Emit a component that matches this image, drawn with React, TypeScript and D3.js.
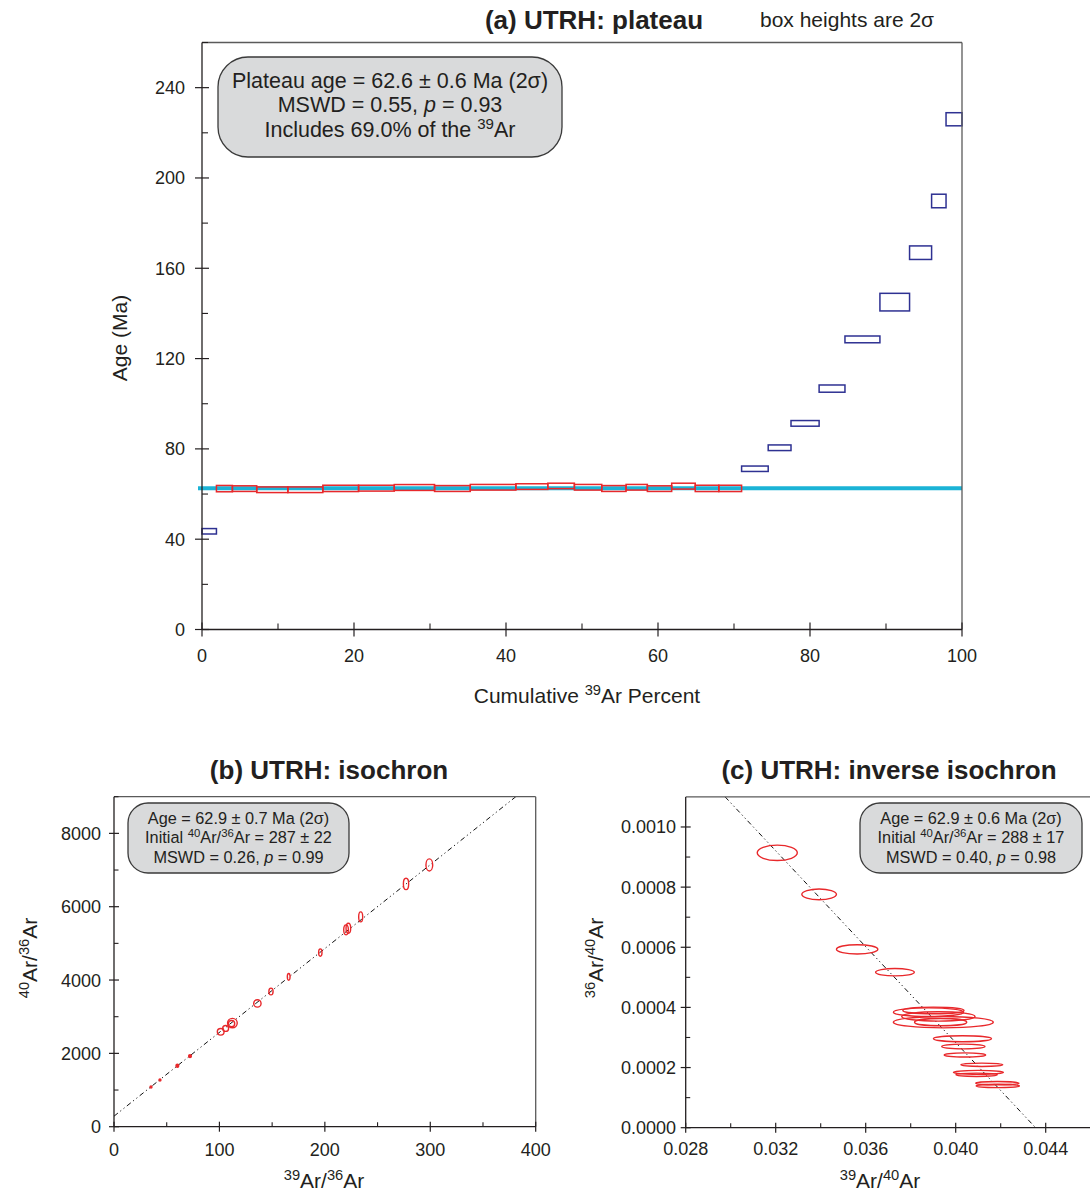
import React from "react";
import * as d3 from "d3";

// ---------- (a) plateau data ----------
const stepBounds = [0, 1.9, 4.0, 7.2, 11.3, 15.9, 20.6, 25.3, 30.6, 35.3, 41.3, 45.5, 49.0, 52.6, 55.8, 58.6, 61.8, 64.9, 68.0, 71.0, 74.5, 77.5, 81.2, 84.6, 89.2, 93.1, 96.0, 97.9, 100];
const stepAges = [43.5, 62.4, 62.4, 61.9, 61.9, 62.5, 62.6, 62.9, 62.45, 63.0, 63.3, 63.6, 63.0, 62.45, 63.0, 62.4, 63.5, 62.5, 62.5, 71.2, 80.5, 91.3, 106.7, 128.5, 145.0, 166.9, 189.8, 226.0];
const stepErr2s = [1.2, 1.4, 1.25, 1.25, 1.25, 1.4, 1.3, 1.3, 1.3, 1.25, 1.25, 1.2, 1.25, 1.3, 1.25, 1.25, 1.3, 1.4, 1.4, 1.2, 1.25, 1.25, 1.6, 1.5, 3.9, 3.0, 3.0, 2.9];
const plateauFirst = 1;
const plateauLast = 18;
const plateauAge = 62.6;
const ageTicks = [0, 40, 80, 120, 160, 200, 240];
const ageMinor = [20, 60, 100, 140, 180, 220, 260];
const pctTicks = [0, 20, 40, 60, 80, 100];
const pctMinor = [10, 30, 50, 70, 90];

// ---------- (b) isochron data ----------
const iso39_36 = [35.1, 43.6, 60.1, 72.1, 101.2, 105.9, 112.3, 111.5, 136.0, 148.9, 165.7, 195.7, 220.1, 222.3, 234.0, 277.0, 299.1];
const iso40_36 = [1081, 1272, 1662, 1925, 2588, 2679, 2825, 2810, 3361, 3688, 4087, 4750, 5368, 5413, 5722, 6621, 7139];
const isoErrX = [0.9, 0.9, 1.3, 1.3, 3.2, 2.8, 4.6, 3.0, 3.5, 2.0, 1.3, 1.6, 2.2, 2.2, 1.9, 2.5, 3.2];
const isoErrY = [28, 28, 40, 40, 90, 80, 128, 85, 100, 92, 92, 100, 136, 136, 136, 155, 165];
const isoInit = 287;
const isoSlope = 22.86;
const isoXTicks = [0, 100, 200, 300, 400];
const isoXMinor = [50, 150, 250, 350];
const isoYTicks = [0, 2000, 4000, 6000, 8000];
const isoYMinor = [1000, 3000, 5000, 7000, 9000];

// ---------- (c) inverse isochron data ----------
const inv39_40 = [0.03207, 0.03393, 0.03562, 0.03730, 0.03879, 0.03901, 0.03923, 0.03945, 0.03933, 0.04030, 0.04034, 0.04041, 0.04116, 0.04101, 0.04093, 0.04185, 0.04187];
const inv36_40 = [0.000914, 0.000776, 0.000593, 0.000517, 0.000384, 0.000390, 0.000370, 0.000351, 0.000351, 0.000296, 0.000270, 0.000242, 0.000209, 0.000184, 0.000176, 0.000148, 0.000139];
const invErrX = [0.00089, 0.00077, 0.00092, 0.00086, 0.00156, 0.00136, 0.00163, 0.00222, 0.00116, 0.00129, 0.00096, 0.00092, 0.00093, 0.00111, 0.00092, 0.00096, 0.00096];
const invErrY = [0.0000256, 0.0000178, 0.0000156, 0.0000122, 0.0000144, 0.0000111, 0.0000156, 0.0000189, 0.0000122, 0.0000100, 0.0000078, 0.0000067, 0.0000056, 0.0000067, 0.0000056, 0.0000056, 0.0000056];
const invYIntercept = 0.003472;
const invXIntercept = 0.04355;
const invXTicks = [0.028, 0.032, 0.036, 0.040, 0.044];
const invXMinor = [0.030, 0.034, 0.038, 0.042];
const invYTicks = [0, 0.0002, 0.0004, 0.0006, 0.0008, 0.0010];
const invYMinor = [0.0001, 0.0003, 0.0005, 0.0007, 0.0009];

const FONT = "'Liberation Sans', Arial, Helvetica, sans-serif";
const INK = "#231f20";
const FRAME = "#5a5a5a";
const RED = "#e8282b";
const BLUE = "#2e3192";
const CYAN = "#1bb3d6";
const BOXFILL = "#d9dadb";

type Part = { t: string; sup?: boolean; it?: boolean };

function Rich({ parts, x, y, size, anchor = "middle", weight = "normal", rotate = false }: any) {
  const out: any[] = [];
  let shifted = false;
  const shift = 0.36 * size;
  parts.forEach((p: Part, i: number) => {
    let dy = 0;
    if (p.sup && !shifted) { dy = -shift; shifted = true; }
    else if (!p.sup && shifted) { dy = shift; shifted = false; }
    out.push(
      <tspan key={i} dy={dy || undefined} fontSize={p.sup ? size * 0.7 : size} fontStyle={p.it ? "italic" : undefined}>
        {p.t}
      </tspan>
    );
  });
  return (
    <text
      x={rotate ? 0 : x}
      y={rotate ? 0 : y}
      transform={rotate ? `translate(${x},${y}) rotate(-90)` : undefined}
      textAnchor={anchor}
      fontFamily={FONT}
      fontSize={size}
      fontWeight={weight}
      fill={INK}
    >
      {out}
    </text>
  );
}

function Axes({ xs, ys, xTicks, xMinor, yTicks, yMinor, xFmt, yFmt, major, minor, tickSize, xLabY, yLabX }: any) {
  const [x0, x1] = xs.range();
  const [y0, y1] = ys.range();
  return (
    <g>
      <line x1={x0} x2={x1} y1={y1} y2={y1} stroke={FRAME} strokeWidth={1.3} />
      <line x1={x1} x2={x1} y1={y1} y2={y0} stroke={FRAME} strokeWidth={1.3} />
      <line x1={x0} x2={x1} y1={y0} y2={y0} stroke={INK} strokeWidth={1.3} />
      <line x1={x0} x2={x0} y1={y0} y2={y1} stroke={INK} strokeWidth={1.3} />
      {xTicks.map((t: number) => (
        <g key={"xt" + t}>
          <line x1={xs(t)} x2={xs(t)} y1={y0 - major} y2={y0 + major} stroke={INK} strokeWidth={1.2} />
          <text x={xs(t)} y={xLabY} textAnchor="middle" fontFamily={FONT} fontSize={tickSize} fill={INK}>{xFmt(t)}</text>
        </g>
      ))}
      {xMinor.map((t: number) => (
        <line key={"xm" + t} x1={xs(t)} x2={xs(t)} y1={y0 - minor} y2={y0} stroke={INK} strokeWidth={1.1} />
      ))}
      {yTicks.map((t: number) => (
        <g key={"yt" + t}>
          <line x1={x0 - major} x2={x0 + major} y1={ys(t)} y2={ys(t)} stroke={INK} strokeWidth={1.2} />
          <text x={yLabX} y={ys(t) + tickSize * 0.36} textAnchor="end" fontFamily={FONT} fontSize={tickSize} fill={INK}>{yFmt(t)}</text>
        </g>
      ))}
      {yMinor.filter((t: number) => ys(t) >= y1 - 0.5).map((t: number) => (
        <line key={"ym" + t} x1={x0} x2={x0 + minor} y1={ys(t)} y2={ys(t)} stroke={INK} strokeWidth={1.1} />
      ))}
    </g>
  );
}

function InfoBox({ x, y, w, h, r, size, lines, baselines }: any) {
  return (
    <g>
      <rect x={x} y={y} width={w} height={h} rx={r} ry={r} fill={BOXFILL} stroke="#3a3a3a" strokeWidth={1.3} />
      {lines.map((parts: Part[], i: number) => (
        <Rich key={i} parts={parts} x={x + w / 2} y={baselines[i]} size={size} />
      ))}
    </g>
  );
}

export default function App() {
  // (a)
  const xa = d3.scaleLinear().domain([0, 100]).range([202, 962]);
  const ya = d3.scaleLinear().domain([0, 260]).range([629.5, 42.5]);
  // (b)
  const xb = d3.scaleLinear().domain([0, 400]).range([114, 535.7]);
  const yb = d3.scaleLinear().domain([0, 9000]).range([1126.7, 796.7]);
  // (c)
  const xc = d3.scaleLinear().domain([0.028, 0.046]).range([685.7, 1090.7]);
  const yc = d3.scaleLinear().domain([0, 0.0011]).range([1127.7, 796.9]);

  const steps = stepAges.map((a, i) => ({
    x0: stepBounds[i], x1: stepBounds[i + 1], age: a, err: stepErr2s[i],
    inPlateau: i >= plateauFirst && i <= plateauLast,
  }));

  const isoXEnd = (9000 - isoInit) / isoSlope;
  const isoLine = d3.line<[number, number]>().x(d => xb(d[0])).y(d => yb(d[1]));
  const invXStart = (invYIntercept - 0.0011) / (invYIntercept / invXIntercept);
  const invLine = d3.line<[number, number]>().x(d => xc(d[0])).y(d => yc(d[1]));

  const dash = "5 3 1.2 3 1.2 3";

  return (
    <svg width={1090} height={1192} style={{ position: "absolute", left: 0, top: 0, background: "#fff" }}>
      <rect x={0} y={0} width={1090} height={1192} fill="#fff" />
      {/* ================= (a) ================= */}
      <Rich parts={[{ t: "(a) UTRH: plateau" }]} x={594} y={29} size={26} weight="bold" />
      <Rich parts={[{ t: "box heights are 2σ" }]} x={760} y={27} size={21} anchor="start" />
      <line x1={xa(0) - 4} x2={xa(100)} y1={ya(plateauAge)} y2={ya(plateauAge)} stroke={CYAN} strokeWidth={4} />
      {steps.map((s, i) => (
        <rect key={i} x={xa(s.x0)} y={ya(s.age + s.err)} width={xa(s.x1) - xa(s.x0)} height={ya(s.age - s.err) - ya(s.age + s.err)}
          fill="none" stroke={s.inPlateau ? RED : BLUE} strokeWidth={1.5} />
      ))}
      <Axes xs={xa} ys={ya} xTicks={pctTicks} xMinor={pctMinor} yTicks={ageTicks} yMinor={ageMinor}
        xFmt={(t: number) => String(t)} yFmt={(t: number) => String(t)} major={7} minor={6} tickSize={18}
        xLabY={662} yLabX={185} />
      <Rich parts={[{ t: "Age (Ma)" }]} x={127} y={338} size={21} rotate />
      <Rich parts={[{ t: "Cumulative " }, { t: "39", sup: true }, { t: "Ar Percent" }]} x={587} y={703} size={21} />
      <InfoBox x={218} y={57} w={344} h={100} r={30} size={21.5}
        baselines={[88, 112, 137]}
        lines={[
          [{ t: "Plateau age = 62.6 ± 0.6 Ma (2σ)" }],
          [{ t: "MSWD = 0.55, " }, { t: "p", it: true }, { t: " = 0.93" }],
          [{ t: "Includes 69.0% of the " }, { t: "39", sup: true }, { t: "Ar" }],
        ]} />

      {/* ================= (b) ================= */}
      <Rich parts={[{ t: "(b) UTRH: isochron" }]} x={329} y={779} size={26} weight="bold" />
      <path d={isoLine([[0, isoInit], [isoXEnd, isoInit + isoSlope * isoXEnd]]) || ""} fill="none" stroke="#111" strokeWidth={1} strokeDasharray={dash} />
      {iso39_36.map((xv, i) => {
        const rx = Math.max(1, xb(isoErrX[i]) - xb(0));
        const ry = Math.max(1, yb(0) - yb(isoErrY[i]));
        const tiny = rx < 1.6 && ry < 1.6;
        return (
          <ellipse key={i} cx={xb(xv)} cy={yb(iso40_36[i])} rx={rx} ry={ry}
            fill={tiny ? RED : "none"} stroke={RED} strokeWidth={1.4} />
        );
      })}
      <Axes xs={xb} ys={yb} xTicks={isoXTicks} xMinor={isoXMinor} yTicks={isoYTicks} yMinor={isoYMinor}
        xFmt={(t: number) => String(t)} yFmt={(t: number) => String(t)} major={5} minor={4.5} tickSize={18}
        xLabY={1156} yLabX={101} />
      <Rich parts={[{ t: "40", sup: true }, { t: "Ar/" }, { t: "36", sup: true }, { t: "Ar" }]} x={37} y={958} size={21} rotate />
      <Rich parts={[{ t: "39", sup: true }, { t: "Ar/" }, { t: "36", sup: true }, { t: "Ar" }]} x={324} y={1188} size={21} />
      <InfoBox x={128} y={803} w={221} h={70} r={20} size={16.3}
        baselines={[824, 843.3, 862.5]}
        lines={[
          [{ t: "Age = 62.9 ± 0.7 Ma (2σ)" }],
          [{ t: "Initial " }, { t: "40", sup: true }, { t: "Ar/" }, { t: "36", sup: true }, { t: "Ar = 287 ± 22" }],
          [{ t: "MSWD = 0.26, " }, { t: "p", it: true }, { t: " = 0.99" }],
        ]} />

      {/* ================= (c) ================= */}
      <Rich parts={[{ t: "(c) UTRH: inverse isochron" }]} x={889} y={779} size={26} weight="bold" />
      <path d={invLine([[invXStart, 0.0011], [invXIntercept, 0]]) || ""} fill="none" stroke="#111" strokeWidth={1} strokeDasharray={dash} />
      {inv39_40.map((xv, i) => (
        <ellipse key={i} cx={xc(xv)} cy={yc(inv36_40[i])} rx={xc(0.028 + invErrX[i]) - xc(0.028)} ry={yc(0) - yc(invErrY[i])}
          fill="none" stroke={RED} strokeWidth={1.4} />
      ))}
      <Axes xs={xc} ys={yc} xTicks={invXTicks} xMinor={invXMinor} yTicks={invYTicks} yMinor={invYMinor}
        xFmt={(t: number) => t.toFixed(3)} yFmt={(t: number) => t.toFixed(4)} major={5} minor={4.5} tickSize={18}
        xLabY={1155} yLabX={676} />
      <Rich parts={[{ t: "36", sup: true }, { t: "Ar/" }, { t: "40", sup: true }, { t: "Ar" }]} x={603} y={958} size={21} rotate />
      <Rich parts={[{ t: "39", sup: true }, { t: "Ar/" }, { t: "40", sup: true }, { t: "Ar" }]} x={880} y={1188} size={21} />
      <InfoBox x={860} y={803} w={222} h={70} r={20} size={16.3}
        baselines={[824, 843.3, 862.5]}
        lines={[
          [{ t: "Age = 62.9 ± 0.6 Ma (2σ)" }],
          [{ t: "Initial " }, { t: "40", sup: true }, { t: "Ar/" }, { t: "36", sup: true }, { t: "Ar = 288 ± 17" }],
          [{ t: "MSWD = 0.40, " }, { t: "p", it: true }, { t: " = 0.98" }],
        ]} />
    </svg>
  );
}
